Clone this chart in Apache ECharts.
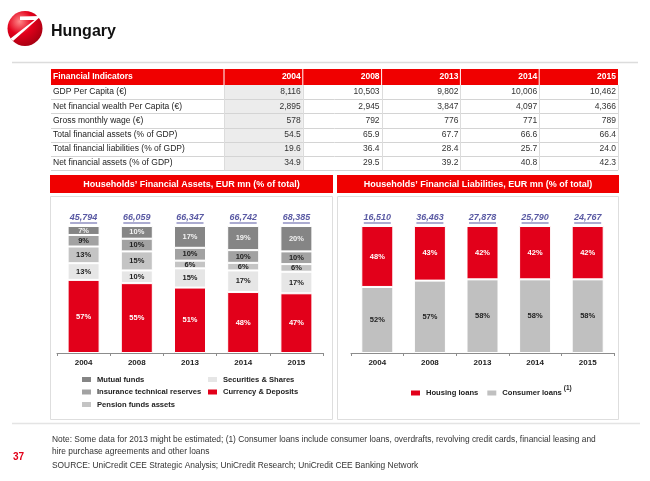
<!DOCTYPE html>
<html>
<head>
<meta charset="utf-8">
<title>Hungary</title>
<script src="https://cdn.jsdelivr.net/npm/echarts@6.0.0/dist/echarts.min.js"></script>
<style>
  html, body { margin: 0; padding: 0; background: #fff; }
  #main { width: 650px; height: 481px; }
</style>
</head>
<body>
<div id="main"></div>
<script>
const FONT = '"Liberation Sans", Arial, sans-serif'
const RED = '#e2001a'
const HEAD_RED = '#f00000'
const NAVY = '#2f2f8c'

// 年份
const years = ['2004', '2008', '2013', '2014', '2015']

// 指标表
const indicatorNames = [
  'GDP Per Capita (€)',
  'Net financial wealth Per Capita (€)',
  'Gross monthly wage (€)',
  'Total financial assets (% of GDP)',
  'Total financial liabilities (% of GDP)',
  'Net financial assets (% of GDP)',
]
const gdpPerCapita = [8116, 10503, 9802, 10006, 10462]
const netWealthPerCapita = [2895, 2945, 3847, 4097, 4366]
const grossMonthlyWage = [578, 792, 776, 771, 789]
const totalAssetsGdp = [54.5, 65.9, 67.7, 66.6, 66.4]
const totalLiabilitiesGdp = [19.6, 36.4, 28.4, 25.7, 24.0]
const netAssetsGdp = [34.9, 29.5, 39.2, 40.8, 42.3]
const rowDecimals = [0, 0, 0, 1, 1, 1]

// 金融资产 (% of total)
const assetTotals = [45794, 66059, 66347, 66742, 68385]
const currencyDeposits = [57, 55, 51, 48, 47]
const securitiesShares = [13, 10, 15, 17, 17]
const pensionFunds = [13, 15, 6, 6, 6]
const insuranceReserves = [9, 10, 10, 10, 10]
const mutualFunds = [7, 10, 17, 19, 20]

// 金融负债 (% of total)
const liabilityTotals = [16510, 36463, 27878, 25790, 24767]
const consumerLoans = [52, 57, 58, 58, 58]
const housingLoans = [48, 43, 42, 42, 42]

const fmt = (v, dec) =>
  v.toLocaleString('en-US', { minimumFractionDigits: dec, maximumFractionDigits: dec })

// ---------- table (graphic) ----------
const T = { x: 51, labelW: 173, colW: 78.8, y: 69, headH: 16, rowH: 14.2 }
const tableW = T.labelW + T.colW * years.length
const tableRows = [gdpPerCapita, netWealthPerCapita, grossMonthlyWage, totalAssetsGdp, totalLiabilitiesGdp, netAssetsGdp]

const txt = (text, x, y, opt = {}) => ({
  type: 'text',
  silent: true,
  style: {
    text,
    x,
    y,
    fill: opt.color || '#333',
    fontSize: opt.size || 8.5,
    fontWeight: opt.weight || 'normal',
    fontStyle: opt.style || 'normal',
    fontFamily: FONT,
    align: opt.align || 'left',
    verticalAlign: 'middle',
  },
  z: 10,
})
const rect = (x, y, w, h, fill, stroke) => ({
  type: 'rect',
  silent: true,
  shape: { x, y, width: w, height: h },
  style: { fill: fill || 'none', stroke: stroke || 'none', lineWidth: 1 },
  z: 1,
})
const line = (x1, y1, x2, y2, color, w) => ({
  type: 'line',
  silent: true,
  shape: { x1, y1, x2, y2 },
  style: { stroke: color, lineWidth: w || 1 },
  z: 2,
})

const tableGraphics = []
// header
tableGraphics.push(rect(T.x, T.y, tableW, T.headH, HEAD_RED))
tableGraphics.push(txt('Financial Indicators', T.x + 2, T.y + T.headH / 2, { color: '#fff', weight: 'bold' }))
years.forEach((yr, i) => {
  const left = T.x + T.labelW + T.colW * i
  tableGraphics.push(line(left, T.y, left, T.y + T.headH, '#fff'))
  tableGraphics.push(txt(yr, left + T.colW - 2, T.y + T.headH / 2, { color: '#fff', weight: 'bold', align: 'right' }))
})
// body
const bodyTop = T.y + T.headH
tableGraphics.push(rect(T.x + T.labelW, bodyTop, T.colW, T.rowH * tableRows.length, '#ececec'))
tableRows.forEach((row, r) => {
  const cy = bodyTop + T.rowH * r + T.rowH / 2
  tableGraphics.push(txt(indicatorNames[r], T.x + 2, cy, { color: '#222' }))
  row.forEach((v, i) => {
    const right = T.x + T.labelW + T.colW * (i + 1)
    tableGraphics.push(txt(fmt(v, rowDecimals[r]), right - 2, cy, { align: 'right' }))
  })
  const by = Math.round(bodyTop + T.rowH * (r + 1)) + 0.5
  tableGraphics.push(line(T.x, by, T.x + tableW, by, '#d4d4d4'))
})
for (let i = 0; i <= years.length; i++) {
  const vx = Math.round(T.x + T.labelW + T.colW * i) + 0.5
  tableGraphics.push(line(vx, bodyTop, vx, bodyTop + T.rowH * tableRows.length, '#dcdcdc'))
}

// ---------- page decoration ----------
const pageGraphics = [
  {
    type: 'circle',
    silent: true,
    shape: { cx: 25, cy: 28.5, r: 17.5 },
    style: {
      fill: new echarts.graphic.RadialGradient(0.35, 0.3, 0.8, [
        { offset: 0, color: '#ff8a8a' },
        { offset: 0.45, color: '#e3001b' },
        { offset: 1, color: '#9e0010' },
      ]),
    },
  },
  {
    // 白色斜线 logo
    type: 'polygon',
    silent: true,
    shape: { points: [[20, 16.5], [41, 16], [13, 41], [10.5, 38.5], [34.5, 20], [20, 20]] },
    style: { fill: '#fff' },
    z: 3,
  },
  txt('Hungary', 51, 32, { color: '#111', size: 16, weight: 'bold' }),
  line(12, 62.5, 638, 62.5, '#dcdcdc', 1.5),
  // panels
  rect(50, 175, 283, 18, HEAD_RED),
  rect(337, 175, 282, 18, HEAD_RED),
  txt('Households’ Financial Assets, EUR mn (% of total)', 191.5, 184.5, { color: '#fff', weight: 'bold', size: 9, align: 'center' }),
  txt('Households’ Financial Liabilities, EUR mn (% of total)', 478, 184.5, { color: '#fff', weight: 'bold', size: 9, align: 'center' }),
  rect(50.5, 196.5, 282, 223, null, '#dedede'),
  rect(337.5, 196.5, 281, 223, null, '#dedede'),
  line(12, 423.5, 640, 423.5, '#e4e4e4', 1.5),
  // notes
  txt('Note: Some data for 2013 might be estimated; (1) Consumer loans include consumer loans, overdrafts, revolving credit cards, financial leasing and', 52, 440, { size: 8.4, color: '#333' }),
  txt('hire purchase agreements and other loans', 52, 452, { size: 8.4, color: '#333' }),
  txt('SOURCE: UniCredit CEE Strategic Analysis; UniCredit Research; UniCredit CEE Banking Network', 52, 466, { size: 8.4, color: '#333' }),
  txt('37', 13, 457, { size: 10, color: RED, weight: 'bold' }),
]

// ---------- series ----------
const stackSum = (parts, i) => parts.reduce((s, p) => s + p[i], 0)

const barSeries = (name, arr, parts, color, labelColor, g) => ({
  name,
  type: 'bar',
  stack: 'g' + g,
  xAxisIndex: g,
  yAxisIndex: g,
  barWidth: 32,
  data: arr.map((v, i) => ({ value: (v / stackSum(parts, i)) * 100, raw: v })),
  itemStyle: { color, borderColor: '#fff', borderWidth: 1 },
  label: {
    show: true,
    position: 'inside',
    formatter: (p) => p.data.raw + '%',
    color: labelColor,
    fontSize: 7.5,
    fontWeight: 'bold',
    fontFamily: FONT,
  },
  emphasis: { disabled: true },
})

const totalSeries = (totals, g) => ({
  type: 'scatter',
  xAxisIndex: g,
  yAxisIndex: g,
  clip: false,
  data: totals.map((t) => ({ value: 100, total: t })),
  symbol: 'rect',
  symbolSize: [27, 1],
  symbolOffset: [0, -3],
  itemStyle: { color: NAVY },
  label: {
    show: true,
    position: 'top',
    distance: 0,
    formatter: (p) => fmt(p.data.total, 0),
    color: NAVY,
    fontSize: 9,
    fontStyle: 'italic',
    fontWeight: 'bold',
    fontFamily: FONT,
  },
  silent: true,
  z: 5,
})

const assetParts = [currencyDeposits, securitiesShares, pensionFunds, insuranceReserves, mutualFunds]
const liabilityParts = [consumerLoans, housingLoans]

const xAxisBase = {
  type: 'category',
  data: years,
  axisLine: { lineStyle: { color: '#8c8c8c', width: 1 } },
  axisTick: { show: true, length: 3, lineStyle: { color: '#8c8c8c' } },
  axisLabel: { color: '#222', fontSize: 8, fontWeight: 'bold', fontFamily: FONT, margin: 6 },
}
const yAxisBase = { type: 'value', min: 0, max: 100, show: false }

const legendText = { color: '#222', fontSize: 7.6, fontWeight: 'bold', fontFamily: FONT }
const legendBase = {
  icon: 'rect',
  itemWidth: 11,
  itemHeight: 7,
  selectedMode: false,
  padding: 0,
  textStyle: legendText,
}

const option = {
  animation: false,
  backgroundColor: '#fff',
  textStyle: { fontFamily: FONT },
  graphic: pageGraphics.concat(tableGraphics),
  grid: [
    { left: 57, top: 226, width: 266, height: 127 },
    { left: 351, top: 226, width: 263, height: 127 },
  ],
  xAxis: [
    { ...xAxisBase, gridIndex: 0 },
    { ...xAxisBase, gridIndex: 1 },
  ],
  yAxis: [
    { ...yAxisBase, gridIndex: 0 },
    { ...yAxisBase, gridIndex: 1 },
  ],
  legend: [
    {
      ...legendBase,
      orient: 'vertical',
      left: 80,
      top: 375,
      itemGap: 3.5,
      data: ['Mutual funds', 'Insurance technical reserves', 'Pension funds assets'],
    },
    {
      ...legendBase,
      orient: 'vertical',
      left: 206,
      top: 375,
      itemGap: 3.5,
      data: ['Securities & Shares', 'Currency & Deposits'],
    },
    {
      ...legendBase,
      orient: 'horizontal',
      left: 409,
      top: 385,
      itemGap: 7,
      data: ['Housing loans', 'Consumer loans'],
      formatter: (name) => (name === 'Consumer loans' ? '{a|' + name + '}{s|(1)}' : name),
      textStyle: {
        ...legendText,
        rich: {
          a: { ...legendText },
          s: { ...legendText, fontSize: 6.5, padding: [0, 0, 9, 2] },
        },
      },
    },
  ],
  series: [
    barSeries('Currency & Deposits', currencyDeposits, assetParts, RED, '#fff', 0),
    barSeries('Securities & Shares', securitiesShares, assetParts, '#e6e6e6', '#222', 0),
    barSeries('Pension funds assets', pensionFunds, assetParts, '#c4c4c4', '#222', 0),
    barSeries('Insurance technical reserves', insuranceReserves, assetParts, '#a2a2a2', '#222', 0),
    barSeries('Mutual funds', mutualFunds, assetParts, '#858585', '#f2f2f2', 0),
    totalSeries(assetTotals, 0),
    barSeries('Consumer loans', consumerLoans, liabilityParts, '#c0c0c0', '#222', 1),
    barSeries('Housing loans', housingLoans, liabilityParts, RED, '#fff', 1),
    totalSeries(liabilityTotals, 1),
  ],
}

const myChart = echarts.init(document.getElementById('main'), null, { renderer: 'canvas' })
myChart.setOption(option)
</script>
</body>
</html>
